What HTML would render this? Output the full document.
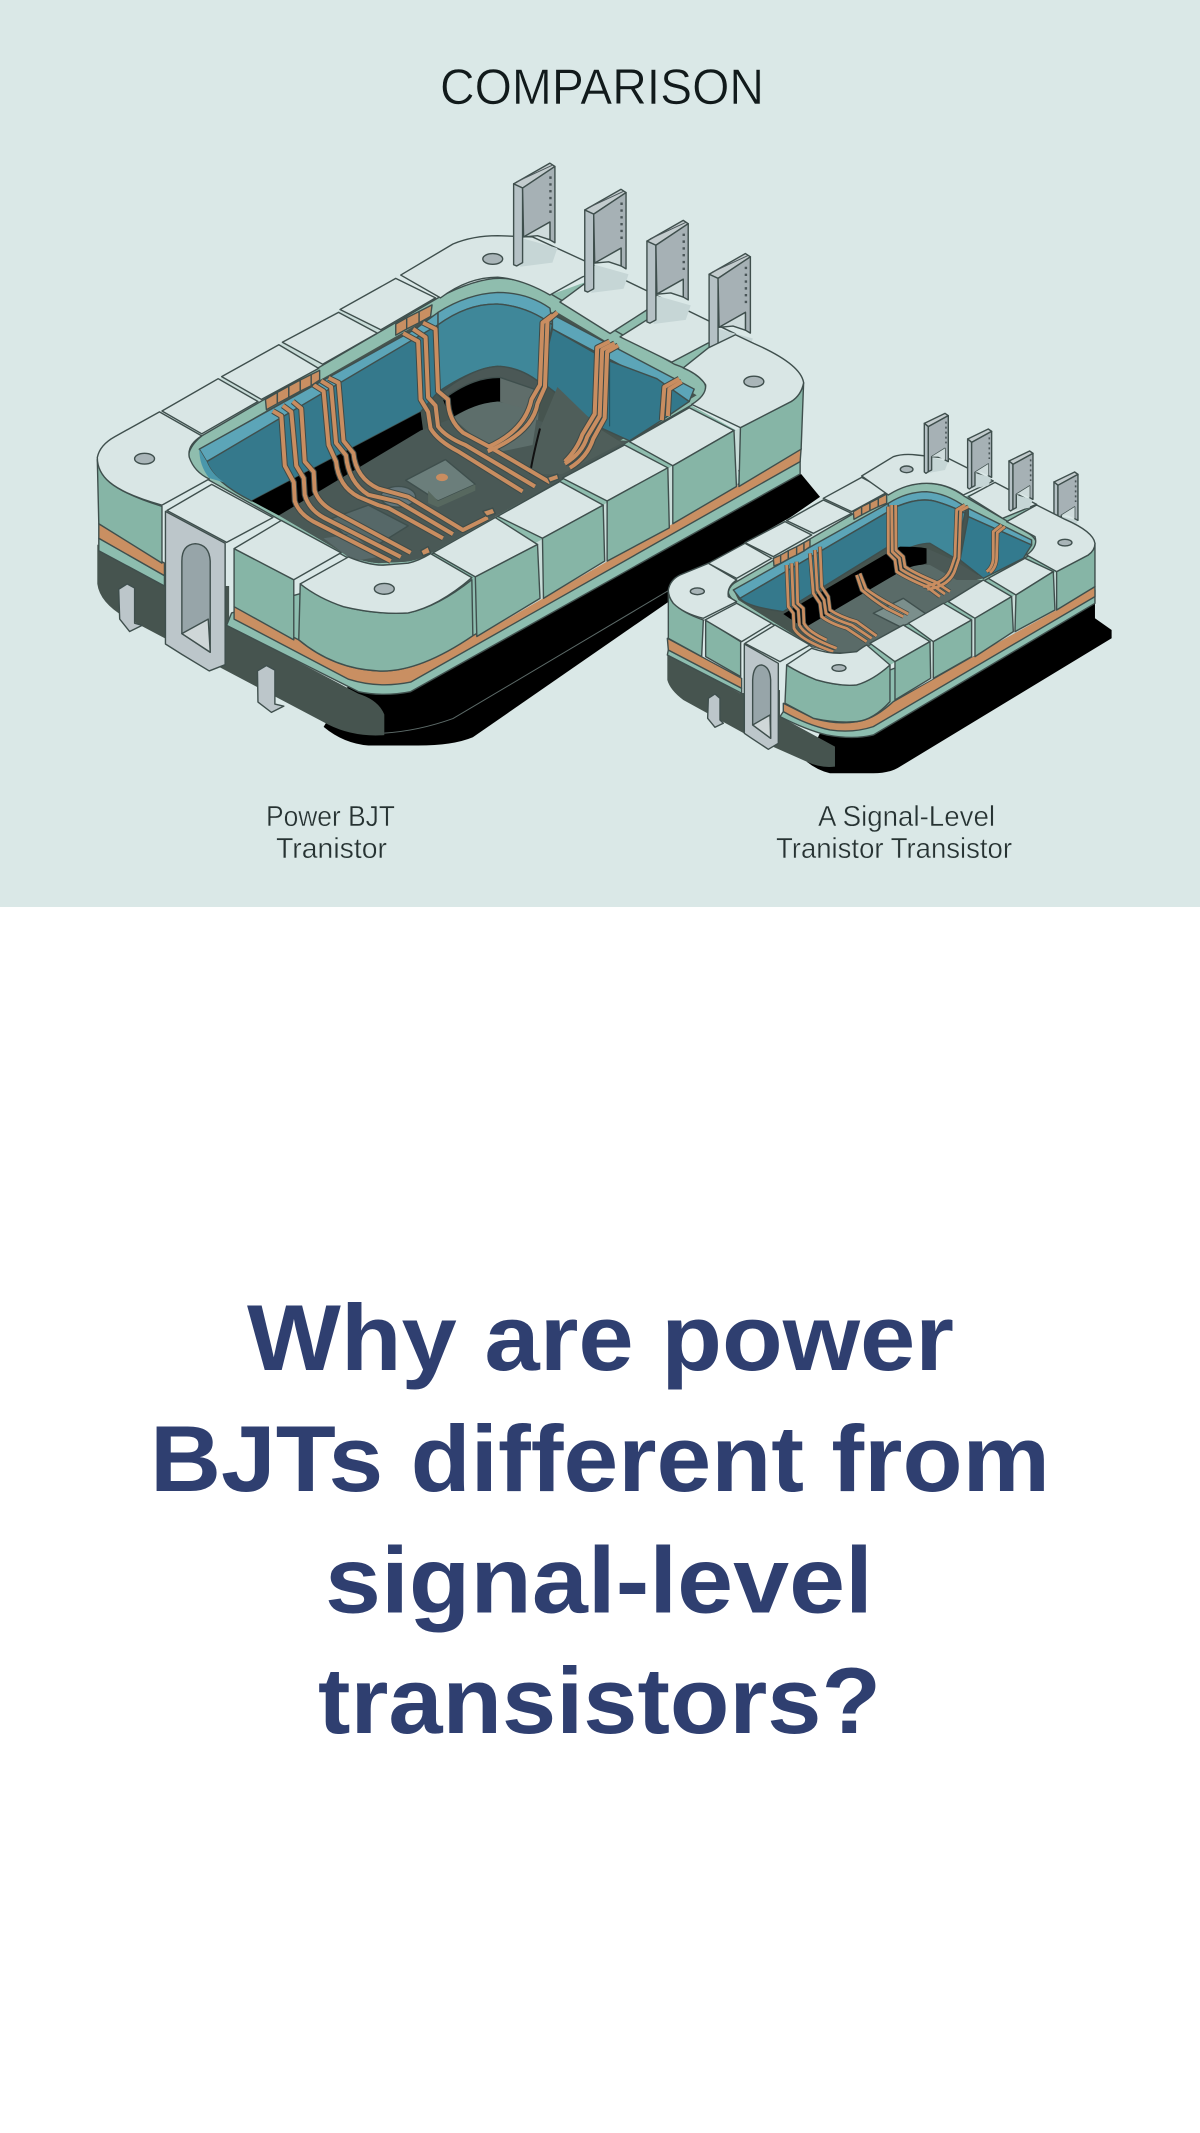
<!DOCTYPE html>
<html lang="en"><head><meta charset="utf-8"><title>Power BJT comparison</title>
<style>
html,body{margin:0;padding:0;background:#fff;width:1200px;height:2133px;overflow:hidden}
svg{display:block;position:absolute;left:0;top:0}
svg *{vector-effect:non-scaling-stroke;stroke-linejoin:round}
.o{stroke:#3f4f4d;stroke-width:1.4}
.t{fill:#d9e6e5}.g{fill:#86b5a6}.r{fill:#8fbdae}.or{fill:#c98f62}.s{fill:#8dbdaf}
.m{fill:#bcc6ca}.h{fill:#97a5a9}.d{fill:#46544f}.k{fill:#000}
.c{fill:#a9b5b8}
.st{fill:#5ca5b8}.wl{fill:#35798c}
.wb{fill:none;stroke:#3e4a47;stroke-width:6}.wo{fill:none;stroke:#c98d60;stroke-width:4}
.wbs{fill:none;stroke:#3e4a47;stroke-width:4.2}.wos{fill:none;stroke:#c98d60;stroke-width:2.8}
text{font-family:"Liberation Sans",sans-serif}
</style></head><body>
<svg width="1200" height="2133" viewBox="0 0 1200 2133" xmlns="http://www.w3.org/2000/svg">
<defs>
<g id="pin">
<polygon points="932,262 1000,285 990,320 925,330" fill="#c6d6d6"/>
<polygon points="912,130 985,80 995,88 930,140" fill="#c3ccce" class="o"/>
<line x1="918" y1="125" x2="990" y2="85" stroke="#4a5658" stroke-width="1"/>
<polygon points="912,130 930,140 930,320 918,328 912,325" fill="#b5c1c5" class="o"/>
<polygon points="930,140 995,88 995,272 985,265 985,222 932,258" fill="#a6b1b5" class="o"/>
<polygon points="932,258 985,222 985,265 960,255" fill="#cfdcdc" class="o"/>
<line x1="986" y1="112" x2="986" y2="205" stroke="#4a5658" stroke-width="2.4" stroke-dasharray="2.4 4.4"/>
</g>
<g id="pinS">
<polygon points="865,200 925,215 915,240 860,250" fill="#c6d6d6"/>
<polygon points="853,100 915,70 925,77 865,110" fill="#c3ccce" class="o"/>
<polygon points="853,100 865,110 865,245 858,250 853,246" fill="#b5c1c5" class="o"/>
<polygon points="865,110 925,77 925,215 915,210 915,175 875,200 875,240 865,245" fill="#a6b1b5" class="o"/>
<polygon points="875,200 915,175 915,210 895,200" fill="#cfdcdc"/>
<line x1="918" y1="95" x2="918" y2="160" stroke="#4a5658" stroke-width="1.6" stroke-dasharray="2 3"/>
</g>
<g id="wiresB">
<path d="M428,678 L445,690 L452,810 L470,850 L472,895 Q480,925 510,945 L665,1040"/>
<path d="M448,665 L465,680 L475,810 L490,840 L492,880 Q500,915 530,935 L685,1030"/>
<path d="M468,655 L485,672 L492,800 L510,825 L512,870 Q520,900 550,920 L705,1020"/>
<path d="M510,615 L530,630 L540,760 L555,800 Q560,860 600,885 L640,905 L660,912 L770,985"/>
<path d="M525,605 L545,620 L555,755 L575,785 Q580,850 620,880 L680,897 L790,975"/>
<path d="M540,598 L560,610 L570,750 L590,780 Q595,840 640,865 L700,885 L810,965 L860,935"/>
<path d="M690,490 L720,510 L725,650 L740,680 L745,720 Q760,750 800,775 L930,872"/>
<path d="M710,480 L735,500 L740,645 L755,665 L760,715 Q775,740 815,760 L955,860"/>
<path d="M730,465 L755,480 L760,630 L780,650 Q780,700 810,730 L860,762 L985,850"/>
<path d="M860,775 Q950,730 960,660 L975,620 L980,460 L1000,440"/>
<path d="M860,765 Q935,725 948,650 L965,615 L970,465 L990,447"/>
<path d="M1015,805 Q1050,780 1060,740 L1085,690 L1090,530 L1115,515"/>
<path d="M1025,815 Q1060,790 1072,745 L1095,695 L1100,535 L1122,520"/>
<path d="M1015,800 Q1040,770 1050,735 L1075,685 L1080,525 L1105,510"/>
<path d="M1210,700 L1215,620 L1245,600"/>
<path d="M1222,690 L1225,625 L1250,607"/>
</g>
<g id="wiresS">
<path d="M440,525 L445,650 L460,670 L462,715 Q480,750 580,785"/>
<path d="M455,520 L460,645 L475,660 L478,705 Q495,740 590,775"/>
<path d="M470,515 L473,640 L490,655 L492,700 Q505,725 560,750"/>
<path d="M510,490 L520,610 L540,640 L545,680 Q570,700 620,715 L680,755"/>
<path d="M525,480 L532,600 L552,630 L558,670 Q585,690 635,705 L695,745"/>
<path d="M540,470 L545,590 L565,620 L570,660 Q600,680 650,695 L710,738"/>
<path d="M650,555 L665,600 Q700,630 740,655 L790,680"/>
<path d="M660,550 L678,597 Q712,622 755,645 L805,672"/>
<path d="M745,350 L745,490 L765,510 L770,545 Q800,565 860,590 L900,620"/>
<path d="M755,345 L757,485 L778,505 L783,538 Q812,558 872,582 L915,612"/>
<path d="M767,345 L768,480 L790,500 L795,530 Q825,550 885,575 L930,605"/>
<path d="M850,590 Q920,580 935,530 L945,500 L950,360 L975,345"/>
<path d="M862,598 Q932,588 947,535 L957,505 L962,362 L985,350"/>
<path d="M1040,545 Q1060,530 1060,500 L1060,425 L1085,405"/>
<path d="M1050,548 Q1070,532 1070,500 L1072,428 L1095,410"/>
</g>
</defs>

<rect x="0" y="0" width="1200" height="907" fill="#dae8e7"/>
<rect x="0" y="907" width="1200" height="1226" fill="#fff"/>

<!-- BIG UNIT -->
<g transform="translate(60,130) scale(.4974,.4145)">
<path class="k" d="M1490,830 L1528,885 L830,1465 Q790,1485 720,1485 L620,1485 Q570,1480 530,1440 L600,1300 Z"/>
<path class="d" d="M75,1000 L75,1095 Q80,1140 130,1175 L540,1435 Q590,1465 652,1460 L652,1410 Q640,1375 600,1360 L340,1195 L340,1100 L210,1100 Z"/>
<path d="M652,1455 Q720,1450 790,1420 L1225,1110" fill="none" stroke="#5c6a68" stroke-width="1"/>
<polygon class="s o" points="78,985 78,1015 210,1100 210,1075"/>
<polygon class="or o" points="78,950 210,1045 210,1075 78,985"/>
<path class="s o" d="M345,1165 L335,1195 L600,1355 Q650,1368 705,1355 L1488,830 L1488,780 Z"/>
<path class="or o" d="M350,1150 L480,1230 Q550,1300 640,1305 Q720,1310 830,1220 L1490,768 L1488,800 L705,1332 Q640,1348 580,1325 L350,1180 Z"/>
<!-- underlays for block gaps -->
<polygon fill="#c8dcd8" points="205,678 675,358 760,410 285,740"/>
<polygon class="r" points="985,398 1095,350 1345,500 1303,640"/>
<polygon class="r" points="745,1022 1270,665 1360,725 835,1080"/>
<polygon fill="#c8dcd8" points="835,1078 1368,718 1362,860 838,1222"/>
<!-- hole -->
<path class="r o" d="M285,738 L760,405 Q840,355 890,358 Q940,360 1000,405 L1235,565 Q1295,590 1298,620 Q1298,645 1268,665 L745,1025 Q720,1045 690,1048 L640,1050 Q600,1045 575,1030 L300,845 Q260,820 258,785 Q262,760 285,738 Z"/>
<path class="d" d="M280,770 L760,440 L1000,440 L1280,640 L745,1020 Q720,1040 690,1042 L640,1045 Q600,1040 575,1025 L330,850 Q285,820 280,770 Z"/>
<!-- walls -->
<polygon class="st o" points="280,770 715,480 760,440 760,470 715,515 295,800"/>
<path class="st o" d="M760,440 Q820,395 880,392 Q940,392 985,430 L990,470 Q940,425 880,420 Q820,418 760,470 Z"/>
<polygon class="st o" points="990,445 1275,625 1265,655 990,480"/>
<path class="wl o" d="M295,800 L760,470 L760,632 L725,680 L385,895 Q310,850 295,800 Z"/>
<path d="M280,770 L295,800 Q305,830 330,850 L300,840 Q280,810 280,770 Z" fill="#4a97ab"/>
<path d="M760,470 Q820,418 880,420 Q940,425 990,470 L965,610 L880,570 Q830,575 760,632 Z" fill="#3f8799" class="o"/>
<path d="M990,480 L1100,555 L1200,600 L1265,655 L1210,700 L1145,750 L1090,720 L965,605 Z" fill="#33788b" class="o"/>
<line x1="1105" y1="555" x2="1105" y2="715" stroke="#21505e" stroke-width="1"/>
<path class="k" d="M385,895 L725,680 L730,725 L440,930 Z"/>
<path class="k" d="M770,650 Q830,595 885,597 L885,655 Q830,660 785,700 Z"/>
<path d="M885,595 L965,630 L960,720 L885,655 Z" fill="#5f6d6a"/>
<path d="M760,640 Q830,570 885,570 Q930,575 965,610 L965,630 L885,597 Q830,595 770,650 Z" fill="#4b5856" class="o"/>
<path d="M440,930 L725,725 L780,700 Q830,660 885,655 L960,700 L1060,745 L1145,750 L750,1018 Q720,1040 690,1042 L640,1045 Q600,1040 575,1025 Z" fill="#4a5956"/>
<path d="M790,695 Q830,660 880,655 L960,680 L950,760 L870,780 Z" fill="#5d6e6b"/>
<path d="M1000,620 L1090,725 L1130,755 L1010,830 L945,830 L965,720 Z" fill="#4f5e5a"/>
<path d="M965,720 Q950,790 945,830" stroke="#111" stroke-width="2" fill="none"/>
<polygon points="695,845 775,795 835,855 760,895" fill="#6b7e7b" class="o"/>
<polygon points="740,870 760,895 835,855 835,870 760,910 740,900" fill="#57685f"/>
<ellipse cx="768" cy="838" rx="12" ry="9" fill="#c98d60"/>
<ellipse cx="680" cy="885" rx="35" ry="25" fill="#63757a" class="o"/>
<polygon points="540,940 620,905 700,955 640,1000 570,975" fill="#566868" class="o"/>
<polygon points="530,985 590,975 640,1030 590,1040" fill="#596a6a"/>
<!-- wires -->
<use href="#wiresB" class="wb"/><use href="#wiresB" class="wo"/>
<g class="or o">
<polygon points="413,650 437,633 437,660 415,675"/><polygon points="437,633 460,618 460,645 437,660"/><polygon points="460,618 483,603 483,630 460,645"/><polygon points="483,603 505,590 505,617 483,630"/><polygon points="505,590 522,580 522,603 505,617"/>
<polygon points="675,468 697,453 697,480 675,495"/><polygon points="697,453 722,438 722,465 697,480"/><polygon points="722,438 748,422 745,450 722,465"/>
<polygon points="725,1015 740,1005 745,1020 730,1027"/><polygon points="850,920 870,912 875,925 858,932"/><polygon points="980,838 1000,830 1003,842 985,850"/>
</g>
<!-- tops, back -->
<g class="t o">
<polygon points="205,678 318,600 398,655 285,733"/>
<polygon points="325,595 440,518 520,575 405,650"/>
<polygon points="447,512 560,440 638,490 528,565"/>
<polygon points="563,433 675,358 755,405 645,482"/>
<path d="M685,350 L790,275 Q830,255 880,255 L950,258 L1095,338 L1051,354 L985,398 Q930,360 880,355 Q820,355 765,405 Z"/>
<polygon points="1005,415 1051,374 1097,340 1225,414 1180,434 1106,491"/>
<polygon points="1126,499 1180,458 1228,416 1358,492 1303,514 1230,560"/>
</g>
<use href="#pin"/>
<use href="#pin" transform="translate(143,63)"/>
<use href="#pin" transform="translate(268,138)"/>
<use href="#pin" transform="translate(393,218)"/>
<g class="o">
<path class="g" d="M1368,718 L1470,655 Q1490,640 1495,610 L1490,770 L1365,860 Z"/>
<path class="t" d="M1253,574 L1303,526 L1358,494 L1395,515 Q1490,565 1495,610 Q1490,640 1470,655 L1368,718 L1270,662 Q1300,640 1298,615 Q1285,590 1253,574 Z"/>
<polygon class="t" points="1145,752 1265,670 1355,725 1232,810"/>
<polygon class="g" points="1232,810 1355,725 1360,860 1232,950"/>
<polygon class="t" points="1010,840 1135,760 1222,815 1100,895"/>
<polygon class="g" points="1100,895 1222,815 1225,960 1100,1040"/>
<polygon class="t" points="880,932 1005,848 1092,905 970,985"/>
<polygon class="g" points="970,985 1092,905 1095,1040 972,1130"/>
<polygon class="t" points="750,1020 875,935 960,1000 835,1078"/>
<polygon class="g" points="835,1078 960,1000 965,1130 838,1222"/>
<path class="g" d="M483,1095 Q520,1130 570,1150 Q640,1170 700,1165 Q760,1150 828,1085 L830,1220 Q720,1310 640,1305 Q550,1300 480,1230 Z"/>
<path class="t" d="M483,1095 L580,1030 Q620,1050 650,1050 L700,1045 Q720,1040 745,1022 L828,1080 Q760,1150 700,1165 Q640,1170 570,1150 Q520,1130 483,1095 Z"/>
<polygon class="g" points="350,1010 470,1085 470,1230 350,1150"/>
<polygon class="t" points="350,1010 445,942 565,1020 470,1085"/>
<path class="g" d="M75,795 Q80,830 100,850 Q130,880 205,908 L205,1045 L78,950 Z"/>
<path class="t" d="M75,790 Q80,760 110,740 L200,680 L285,738 Q255,760 260,790 Q270,825 300,842 L205,905 Q130,880 100,850 Q75,825 75,790 Z"/>
<polygon class="m" points="212,920 332,997 332,1290 300,1305 245,1265 212,1240"/>
<polygon class="t" points="215,918 305,855 428,935 335,995"/>
<path class="h" d="M245,1040 Q245,1000 272,998 Q300,1000 302,1040 L302,1260 L245,1215 Z"/>
<polygon points="245,1215 298,1180 302,1260" fill="#cfd7d8"/>
<polygon class="m" points="118,1108 135,1095 150,1105 150,1190 165,1195 140,1210 120,1180"/>
<polygon class="m" points="397,1305 415,1292 432,1303 432,1385 450,1390 425,1405 398,1380"/>
</g>
<ellipse class="c o" cx="170" cy="793" rx="20" ry="13"/>
<ellipse class="c o" cx="870" cy="311" rx="20" ry="13"/>
<ellipse class="c o" cx="1395" cy="607" rx="20" ry="13"/>
<ellipse class="c o" cx="652" cy="1107" rx="20" ry="13"/>
</g>

<!-- SMALL UNIT -->
<g transform="translate(640,390) scale(.3333)">
<path class="k" d="M1365,685 L1415,720 L1415,745 L780,1130 Q750,1150 700,1150 L570,1150 Q530,1140 500,1115 L600,900 Z"/>
<path class="d" d="M82,790 L82,870 Q90,900 130,930 L330,1040 L500,1115 Q540,1135 585,1130 L585,1070 L420,980 L420,900 L300,910 Z"/>
<path d="M1365,640 L1365,700 Q1000,950 760,1065 L590,1075 Z" fill="#000"/>
<polygon class="s o" points="85,780 305,895 305,910 82,795"/>
<polygon class="or o" points="82,745 305,865 305,895 85,780"/>
<path class="s o" d="M430,965 L420,980 Q500,1020 560,1035 Q640,1050 700,1035 L1365,640 L1365,600 Z"/>
<path class="or o" d="M430,940 L520,985 Q590,1005 650,995 Q700,990 760,935 L1365,590 L1365,620 L700,1010 Q640,1030 570,1020 Q500,1005 430,965 Z"/>
<polygon fill="#c8dcd8" points="205,520 665,262 745,305 290,570"/>
<polygon class="r" points="975,320 1060,285 1180,350 1165,500"/>
<polygon class="r" points="680,765 1165,498 1250,545 750,825"/>
<polygon fill="#c8dcd8" points="765,815 1250,545 1250,660 765,930"/>
<path class="r o" d="M290,575 L745,310 Q800,280 860,280 Q920,280 975,320 L1165,430 Q1190,445 1190,465 Q1185,480 1165,498 L680,770 Q660,785 620,788 L570,785 Q540,775 515,770 L290,640 Q265,620 265,605 Q270,585 290,575 Z"/>
<path class="d" d="M280,600 L745,340 L985,355 L1175,455 L680,768 Q660,782 620,785 L570,782 L515,768 L295,630 Z"/>
<polygon class="st o" points="280,600 745,340 745,365 300,625"/>
<path class="st o" d="M745,340 Q800,305 860,305 Q920,310 975,350 L975,370 Q940,350 890,335 Q840,320 770,350 L745,365 Z"/>
<polygon class="st o" points="985,355 1175,450 1175,465 985,380"/>
<path class="wl o" d="M300,625 L745,365 L745,470 L430,665 Q320,650 300,625 Z"/>
<path d="M770,350 Q840,320 890,335 Q940,350 975,370 L945,505 L870,460 Q830,460 770,490 Z" fill="#3f8799" class="o"/>
<path d="M985,380 L1175,465 L1150,505 L1030,565 L960,510 Z" fill="#337a8e" class="o"/>
<path class="k" d="M430,672 L750,485 L780,470 Q830,470 860,475 L860,520 L790,540 L500,710 L470,700 Z"/>
<path d="M860,475 L940,510 L1030,565 L930,590 L860,520 Z" fill="#4b5956"/>
<path d="M500,710 L790,540 Q830,520 870,525 L950,570 L1035,570 L680,770 Q660,785 620,788 L570,785 L515,770 Z" fill="#5a6b68"/>
<polygon points="700,670 790,625 870,680 780,710" fill="#7b8f8c" class="o"/>
<ellipse cx="855" cy="568" rx="18" ry="10" fill="#c98d60"/>
<use href="#wiresS" class="wbs"/><use href="#wiresS" class="wos"/>
<g class="or o">
<polygon points="400,505 422,495 422,520 402,528"/><polygon points="422,495 445,482 445,507 422,520"/><polygon points="445,482 470,470 470,495 445,507"/><polygon points="470,470 492,458 492,483 470,495"/><polygon points="492,458 510,448 510,470 492,483"/>
<polygon points="640,365 665,350 665,375 642,388"/><polygon points="665,350 690,338 690,362 665,375"/><polygon points="690,338 715,325 715,350 690,362"/><polygon points="715,325 740,312 740,340 715,350"/>
</g>
<g class="t o">
<polygon points="205,520 315,460 395,505 290,565"/>
<polygon points="315,458 435,395 515,435 400,500"/>
<polygon points="440,392 550,330 635,370 520,430"/>
<polygon points="550,325 665,262 745,305 635,365"/>
<path d="M665,258 L760,200 Q790,190 830,195 L925,205 L1060,273 L970,315 Q920,280 860,280 Q800,280 745,315 Z"/>
<polygon points="985,320 1065,277 1190,343 1088,385"/>
</g>
<use href="#pinS"/>
<use href="#pinS" transform="translate(130,47)"/>
<use href="#pinS" transform="translate(254,113)"/>
<use href="#pinS" transform="translate(389,176)"/>
<g class="o">
<path class="g" d="M1250,545 L1345,495 Q1365,480 1365,460 L1365,590 L1250,660 Z"/>
<path class="t" d="M1160,495 Q1195,470 1185,440 Q1150,420 1100,395 L1190,345 L1275,388 Q1360,425 1365,460 Q1365,480 1345,495 L1250,545 Z"/>
<polygon class="t" points="1045,565 1155,505 1240,545 1128,615"/>
<polygon class="g" points="1128,615 1240,545 1245,660 1125,725"/>
<polygon class="t" points="925,635 1030,570 1115,620 1005,685"/>
<polygon class="g" points="1005,685 1115,620 1120,725 1005,800"/>
<polygon class="t" points="805,700 910,640 995,690 880,755"/>
<polygon class="g" points="880,755 995,690 995,800 880,865"/>
<polygon class="t" points="690,760 790,705 870,755 765,815"/>
<polygon class="g" points="765,815 870,755 872,865 765,930"/>
<path class="g" d="M440,825 Q480,850 530,870 Q600,890 650,885 Q700,870 750,825 L750,935 Q700,990 650,995 Q590,1000 520,985 L435,940 Z"/>
<path class="t" d="M440,825 L515,775 Q560,790 600,790 L650,785 Q670,770 680,765 L750,825 Q700,870 650,885 Q600,890 530,870 Q480,850 440,825 Z"/>
<polygon class="g" points="197,690 302,755 302,860 197,800"/>
<polygon class="t" points="195,690 290,640 395,700 305,755"/>
<path class="g" d="M85,605 Q85,620 100,640 Q130,670 190,690 L185,800 L85,745 Z"/>
<path class="t" d="M85,600 Q90,570 120,555 L205,520 L290,570 Q260,590 265,620 L290,635 L190,685 Q130,670 100,640 Q85,620 85,600 Z"/>
<polygon class="m" points="313,762 415,820 415,1060 385,1078 335,1045 313,1030"/>
<polygon class="t" points="315,760 405,705 510,765 420,815"/>
<path class="h" d="M338,870 Q340,825 365,825 Q390,830 392,870 L392,1045 L338,1005 Z"/>
<polygon points="338,1005 390,975 392,1045" fill="#cfd7d8"/>
<polygon class="m" points="205,925 225,912 240,925 240,990 250,1000 225,1012 203,985"/>
<ellipse class="c" cx="172" cy="604" rx="21" ry="10"/>
<ellipse class="c" cx="800" cy="238" rx="19" ry="10"/>
<ellipse class="c" cx="1275" cy="458" rx="21" ry="10"/>
<ellipse class="c" cx="597" cy="834" rx="21" ry="10"/>
</g>
</g>

<!-- TEXT -->
<g fill="#111a1b" stroke="#dae8e7" stroke-width=".6">
<text x="440" y="104" font-size="50" textLength="324" lengthAdjust="spacingAndGlyphs">COMPARISON</text>
</g>
<g fill="#263232" stroke="#dae8e7" stroke-width=".4">
<text x="266" y="826" font-size="29" textLength="129" lengthAdjust="spacingAndGlyphs">Power BJT</text>
<text x="276" y="858" font-size="29" textLength="111" lengthAdjust="spacingAndGlyphs">Tranistor</text>
<text x="818" y="826" font-size="29" textLength="177" lengthAdjust="spacingAndGlyphs">A Signal-Level</text>
<text x="776" y="858" font-size="29" textLength="236" lengthAdjust="spacingAndGlyphs">Tranistor Transistor</text>
</g>
<g fill="#2f3f70" font-weight="700" font-size="94">
<text x="247" y="1370" textLength="707" lengthAdjust="spacingAndGlyphs">Why are power</text>
<text x="150" y="1491" textLength="900" lengthAdjust="spacingAndGlyphs">BJTs different from</text>
<text x="325" y="1612.5" textLength="548" lengthAdjust="spacingAndGlyphs">signal-level</text>
<text x="318" y="1733" textLength="563" lengthAdjust="spacingAndGlyphs">transistors?</text>
</g>
</svg>
</body></html>
